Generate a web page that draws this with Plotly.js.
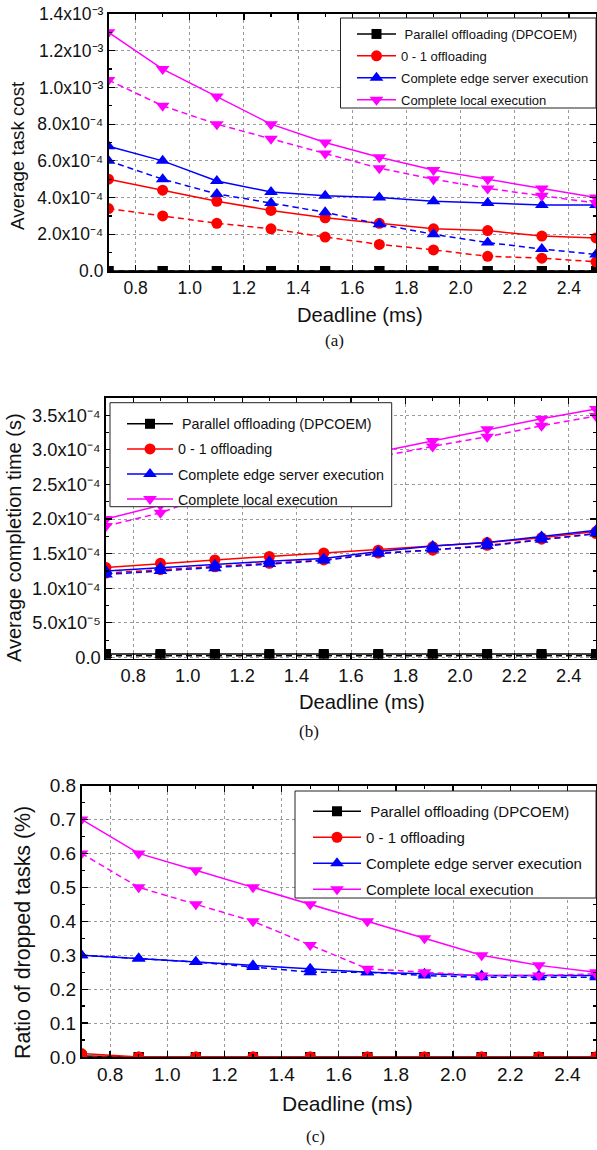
<!DOCTYPE html>
<html><head><meta charset="utf-8">
<script src="https://cdn.plot.ly/plotly-3.0.1.min.js"></script>
<style>html,body{margin:0;padding:0;background:#fff}#chart{width:597px;height:1150px}</style>
</head><body><div id="chart"></div>
<script>
// ---------- data ----------
const deadline = [0.7, 0.9, 1.1, 1.3, 1.5, 1.7, 1.9, 2.1, 2.3, 2.5];
const seriesNames = ['\u00a0Parallel offloading (DPCOEM)', '0 - 1 offloading', 'Complete edge server execution', 'Complete local execution'];
const xTitle = 'Deadline (ms)';
const yTitles = ['Average task cost', 'Average completion time (s)', 'Ratio of dropped tasks (%)'];
const captions = ['(a)', '(b)', '(c)'];

// (a) Average task cost
const costParallelSolid  = [0, 0, 0, 0, 0, 0, 0, 0, 0, 0];
const costParallelDashed = [0, 0, 0, 0, 0, 0, 0, 0, 0, 0];
const cost01Solid    = [5.0e-4, 4.4e-4, 3.8e-4, 3.3e-4, 2.9e-4, 2.6e-4, 2.3e-4, 2.2e-4, 1.9e-4, 1.8e-4];
const cost01Dashed   = [3.4e-4, 3.0e-4, 2.6e-4, 2.3e-4, 1.85e-4, 1.45e-4, 1.15e-4, 0.8e-4, 0.7e-4, 0.5e-4];
const costEdgeSolid  = [6.8e-4, 6.0e-4, 4.9e-4, 4.3e-4, 4.1e-4, 4.0e-4, 3.8e-4, 3.7e-4, 3.6e-4, 3.6e-4];
const costEdgeDashed = [6.0e-4, 5.0e-4, 4.2e-4, 3.7e-4, 3.2e-4, 2.55e-4, 2.0e-4, 1.55e-4, 1.2e-4, 0.9e-4];
const costLocalSolid = [1.3e-3, 1.1e-3, 0.95e-3, 0.8e-3, 0.7e-3, 0.62e-3, 0.55e-3, 0.5e-3, 0.45e-3, 0.4e-3];
const costLocalDashed= [1.04e-3, 0.9e-3, 0.8e-3, 0.72e-3, 0.64e-3, 0.56e-3, 0.5e-3, 0.45e-3, 0.41e-3, 0.37e-3];
const costTickVals = [0, 2e-4, 4e-4, 6e-4, 8e-4, 1.0e-3, 1.2e-3, 1.4e-3];
const costTickText = ['0.0', '2.0x10\u207B\u2074', '4.0x10\u207B\u2074', '6.0x10\u207B\u2074', '8.0x10\u207B\u2074', '1.0x10\u207B\u00B3', '1.2x10\u207B\u00B3', '1.4x10\u207B\u00B3'];

// (b) Average completion time
const timeParallelSolid  = [5e-6, 5e-6, 5e-6, 5e-6, 5e-6, 5e-6, 5e-6, 5e-6, 5e-6, 5e-6];
const timeParallelDashed = [2.5e-6, 2.5e-6, 2.5e-6, 2.5e-6, 2.5e-6, 2.5e-6, 2.5e-6, 2.5e-6, 2.5e-6, 2.5e-6];
const time01Solid    = [1.30e-4, 1.36e-4, 1.41e-4, 1.46e-4, 1.51e-4, 1.55e-4, 1.60e-4, 1.66e-4, 1.73e-4, 1.82e-4];
const time01Dashed   = [1.22e-4, 1.27e-4, 1.31e-4, 1.36e-4, 1.41e-4, 1.51e-4, 1.55e-4, 1.62e-4, 1.71e-4, 1.79e-4];
const timeEdgeSolid  = [1.25e-4, 1.30e-4, 1.34e-4, 1.39e-4, 1.43e-4, 1.53e-4, 1.61e-4, 1.66e-4, 1.75e-4, 1.84e-4];
const timeEdgeDashed = [1.20e-4, 1.25e-4, 1.29e-4, 1.35e-4, 1.40e-4, 1.50e-4, 1.56e-4, 1.61e-4, 1.70e-4, 1.79e-4];
const timeLocalSolid = [2.0e-4, 2.2e-4, 2.4e-4, 2.6e-4, 2.8e-4, 2.97e-4, 3.13e-4, 3.30e-4, 3.45e-4, 3.59e-4];
const timeLocalDashed= [1.9e-4, 2.09e-4, 2.37e-4, 2.55e-4, 2.73e-4, 2.90e-4, 3.05e-4, 3.19e-4, 3.35e-4, 3.49e-4];
const timeTickVals = [0, 5e-5, 1.0e-4, 1.5e-4, 2.0e-4, 2.5e-4, 3.0e-4, 3.5e-4];
const timeTickText = ['0.0', '5.0x10\u207B\u2075', '1.0x10\u207B\u2074', '1.5x10\u207B\u2074', '2.0x10\u207B\u2074', '2.5x10\u207B\u2074', '3.0x10\u207B\u2074', '3.5x10\u207B\u2074'];

// (c) Ratio of dropped tasks
const dropParallelSolid  = [0.003, 0, 0, 0, 0, 0, 0, 0, 0, 0];
const dropParallelDashed = [0, 0, 0, 0, 0, 0, 0, 0, 0, 0];
const drop01Solid    = [0.01, 0, 0, 0, 0, 0, 0, 0, 0, 0];
const drop01Dashed   = [0, 0, 0, 0, 0, 0, 0, 0, 0, 0];
const dropEdgeSolid  = [0.30, 0.29, 0.28, 0.27, 0.26, 0.25, 0.245, 0.24, 0.24, 0.24];
const dropEdgeDashed = [0.30, 0.29, 0.28, 0.265, 0.25, 0.25, 0.24, 0.235, 0.235, 0.235];
const dropLocalSolid = [0.70, 0.60, 0.55, 0.50, 0.45, 0.40, 0.35, 0.30, 0.27, 0.25];
const dropLocalDashed= [0.60, 0.50, 0.45, 0.40, 0.33, 0.26, 0.25, 0.24, 0.24, 0.245];

// ---------- styling ----------
const W = 597, H = 1150;
const px = v => v / W;
const py = v => 1 - v / H;
const FONT = 'Liberation Sans, Arial, sans-serif';
const SERIF = 'Liberation Serif, Times New Roman, serif';
const TXT = '#111';
const colors = ['#000000', '#FF0000', '#0000FF', '#FF00FF'];
const symbols = ['square', 'circle', 'triangle-up', 'triangle-down'];
const msizes = [10, 11, 12, 12];

const traces = [];
function addPanel(n, solids, dasheds) {
  const xa = n === 1 ? 'x' : 'x' + n;
  const ya = n === 1 ? 'y' : 'y' + n;
  const lg = n === 1 ? 'legend' : 'legend' + n;
  for (let i = 0; i < 4; i++) {
    const common = {
      x: deadline, xaxis: xa, yaxis: ya, mode: 'lines+markers',
      marker: {symbol: symbols[i], size: msizes[i], color: colors[i], line: {width: 0}},
      legend: lg, legendgroup: 'p' + n + 's' + i, hoverinfo: 'x+y'
    };
    traces.push(Object.assign({}, common, {
      y: dasheds[i], name: seriesNames[i] + ' (dashed)', showlegend: false,
      line: {color: colors[i], width: 1.5, dash: '6px,4px'}
    }));
    traces.push(Object.assign({}, common, {
      y: solids[i], name: seriesNames[i], showlegend: true,
      line: {color: colors[i], width: 1.5}
    }));
  }
}
addPanel(1, [costParallelSolid, cost01Solid, costEdgeSolid, costLocalSolid],
            [costParallelDashed, cost01Dashed, costEdgeDashed, costLocalDashed]);
addPanel(2, [timeParallelSolid, time01Solid, timeEdgeSolid, timeLocalSolid],
            [timeParallelDashed, time01Dashed, timeEdgeDashed, timeLocalDashed]);
addPanel(3, [dropParallelSolid, drop01Solid, dropEdgeSolid, dropLocalSolid],
            [dropParallelDashed, drop01Dashed, dropEdgeDashed, dropLocalDashed]);

function xAxis(domain, anchor, fs) {
  return {
    domain: domain, anchor: anchor, range: [0.7, 2.5],
    tickmode: 'linear', tick0: 0.8, dtick: 0.2, tickformat: '.1f',
    ticks: 'inside', ticklen: 6, tickwidth: 1.2, tickcolor: '#000',
    showline: true, linecolor: '#000', linewidth: 1.6, mirror: 'ticks',
    showgrid: true, gridcolor: '#9a9a9a', gridwidth: 1, griddash: 'dot', zeroline: false,
    minor: {tick0: 0.7, dtick: 0.1, ticks: 'inside', ticklen: 3, tickwidth: 1.2, tickcolor: '#000', showgrid: false},
    tickfont: {family: FONT, size: fs, color: TXT},
    automargin: false, fixedrange: true
  };
}
function yAxis(domain, anchor, range, tv, tt, minorDt, fs) {
  const ax = {
    domain: domain, anchor: anchor, range: range,
    ticks: 'inside', ticklen: 6, tickwidth: 1.2, tickcolor: '#000',
    showline: true, linecolor: '#000', linewidth: 1.6, mirror: 'ticks',
    showgrid: true, gridcolor: '#9a9a9a', gridwidth: 1, griddash: 'dot', zeroline: false,
    minor: {tick0: 0, dtick: minorDt, ticks: 'inside', ticklen: 3, tickwidth: 1.2, tickcolor: '#000', showgrid: false},
    tickfont: {family: FONT, size: fs, color: TXT},
    automargin: false, fixedrange: true
  };
  if (tv) { ax.tickmode = 'array'; ax.tickvals = tv; ax.ticktext = tt; }
  else { ax.tickmode = 'linear'; ax.tick0 = 0; ax.dtick = 0.1; ax.tickformat = '.1f'; }
  return ax;
}
function legendAt(x, y, size, itemwidth, gap) {
  return {
    x: x, y: y, xanchor: 'left', yanchor: 'top', bgcolor: 'rgba(0,0,0,0)',
    borderwidth: 0, font: {family: FONT, size: size, color: TXT},
    itemwidth: itemwidth, traceorder: 'grouped', tracegroupgap: gap
  };
}
function box(x0, y0, x1, y1) {
  return {type: 'rect', xref: 'paper', yref: 'paper', x0: px(x0), x1: px(x1), y0: py(y1), y1: py(y0),
          fillcolor: '#fff', line: {color: '#222', width: 1}, layer: 'above'};
}
function label(text, x, y, size, family, angle) {
  return {text: text, x: px(x), y: py(y), xref: 'paper', yref: 'paper', showarrow: false,
          xanchor: 'center', yanchor: 'middle', textangle: angle || 0,
          font: {family: family, size: size, color: TXT}};
}

const layout = {
  width: W, height: H, margin: {l: 0, r: 0, t: 0, b: 0},
  paper_bgcolor: '#fff', plot_bgcolor: '#fff', showlegend: true,
  xaxis:  xAxis([px(108.5), px(596)], 'y', 17.5),
  yaxis:  yAxis([py(271), py(14)], 'x', [0, 1.4e-3], costTickVals, costTickText, 1e-4, 17.5),
  xaxis2: xAxis([px(106), px(596)], 'y2', 18.3),
  yaxis2: yAxis([py(658.5), py(398)], 'x2', [-1.5e-6, 3.75e-4], timeTickVals, timeTickText, 2.5e-5, 18.3),
  xaxis3: xAxis([px(81.5), px(596)], 'y3', 19),
  yaxis3: yAxis([py(1057), py(785.5)], 'x3', [0, 0.8], null, null, 0.05, 19),
  legend:  legendAt(px(352), py(19), 13, 39, 2),
  legend2: legendAt(px(122), py(408), 14.3, 46, 3.5),
  legend3: legendAt(px(308), py(795), 15, 48, 3.5),
  shapes: [box(340.5, 18, 596, 108), box(110, 402.7, 391.7, 506.7), box(295, 791, 596, 898)],
  annotations: [
    label(yTitles[0], 17, 156, 18.7, FONT, -90),
    label(yTitles[1], 14, 538, 20, FONT, -90),
    label(yTitles[2], 23, 933, 21.4, FONT, -90),
    label(xTitle, 360, 315, 20.2, FONT),
    label(xTitle, 362, 702, 20.2, FONT),
    label(xTitle, 347, 1103, 21, FONT),
    label(captions[0], 335, 340, 17, SERIF),
    label(captions[1], 309, 731, 17, SERIF),
    label(captions[2], 315, 1136, 17, SERIF)
  ]
};

Plotly.newPlot('chart', traces, layout, {displayModeBar: false, staticPlot: true});
</script></body></html>
